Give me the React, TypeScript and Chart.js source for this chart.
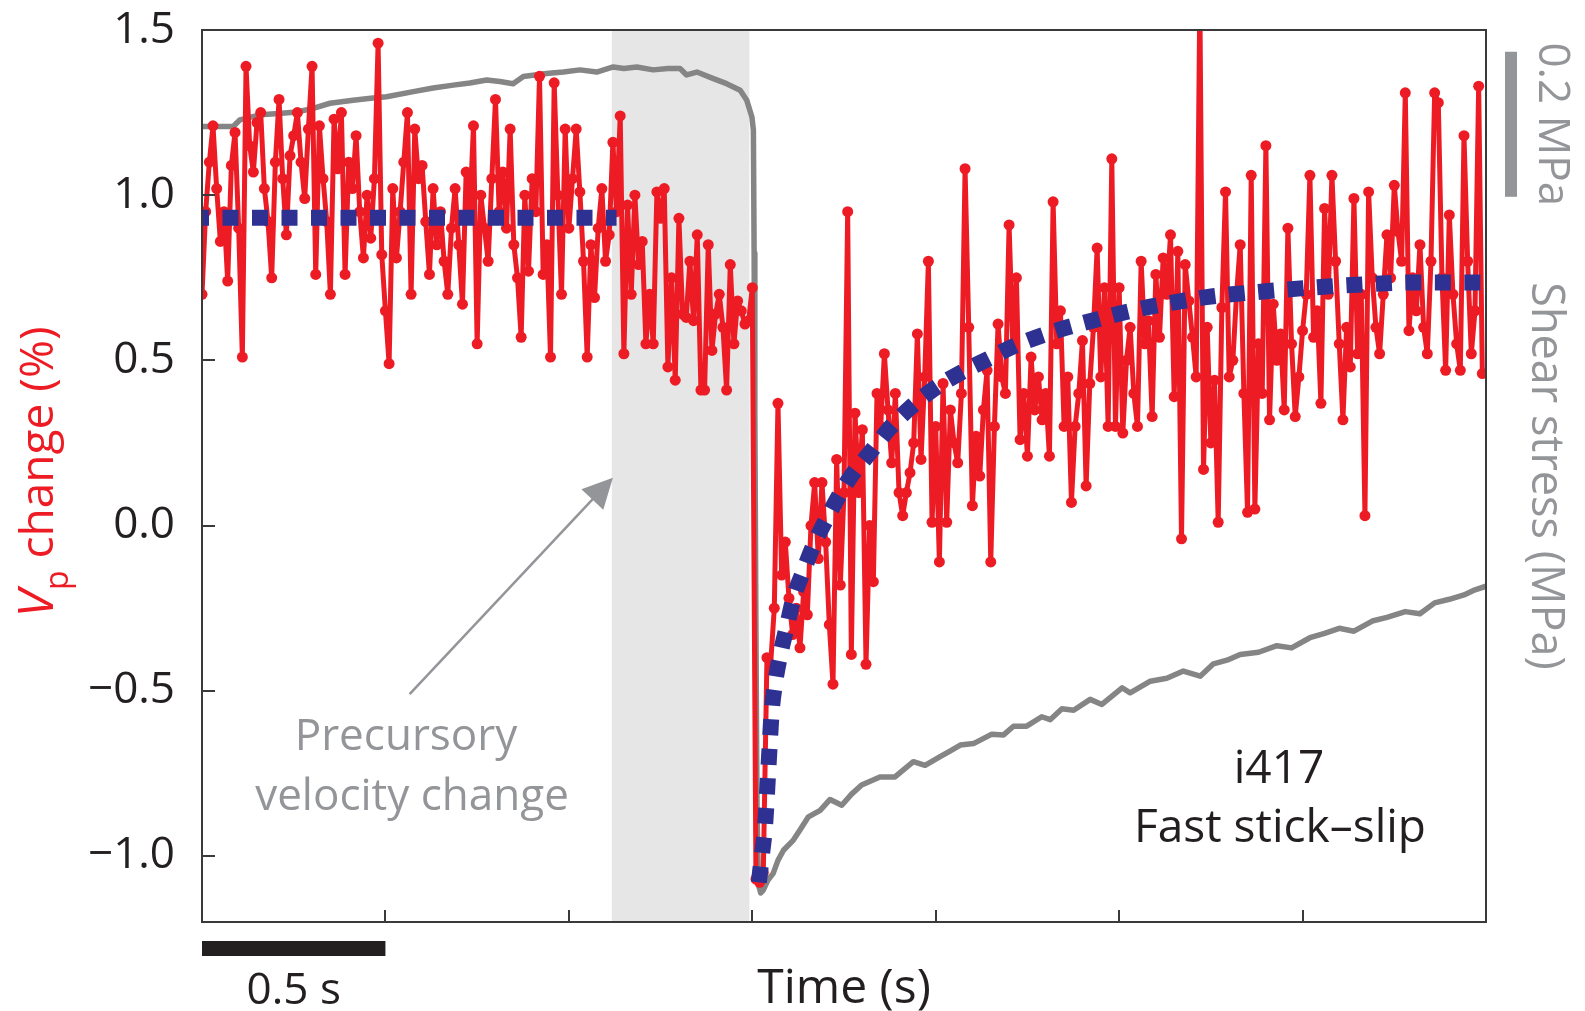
import React, { useEffect, useRef } from 'react';
import { Chart, registerables } from 'chart.js';

Chart.register(...registerables);

// ---------------- data ----------------
const SAMPLE_START = 0; // s
const SAMPLE_STEP = 0.01; // s between P-wave velocity measurements

// Vp change (%) sampled every SAMPLE_STEP seconds
const vpChange = [
  0.70, 0.95, 1.10, 1.21, 1.02, 0.86, 0.95, 0.74, 1.09, 1.19,
  0.90, 0.51, 1.39, 1.15, 1.07, 1.22, 1.25, 1.02, 0.92, 0.75,
  1.10, 1.29, 1.05, 0.88, 1.12, 1.18, 1.25, 1.10, 0.99, 1.20,
  1.39, 0.76, 1.21, 1.05, 0.92, 0.70, 1.23, 1.08, 1.25, 0.76,
  1.10, 1.02, 1.18, 0.95, 0.81, 1.00, 0.87, 1.05, 1.46, 0.82,
  0.65, 0.49, 1.02, 0.81, 0.95, 1.10, 1.25, 0.70, 1.20, 1.05,
  1.09, 0.92, 0.76, 1.02, 0.85, 0.95, 0.80, 0.70, 0.90, 1.02,
  0.85, 0.67, 1.07, 0.95, 1.21, 0.55, 1.00, 0.90, 0.80, 1.05,
  1.29, 0.95, 1.07, 0.90, 1.20, 0.85, 0.75, 0.57, 1.00, 0.77,
  1.05, 0.95, 1.36, 0.76, 0.85, 0.51, 1.34, 1.00, 0.70, 1.20,
  0.90, 1.05, 1.20, 1.01, 0.80, 0.51, 0.85, 0.69, 0.90, 1.02,
  0.80, 0.88, 1.16, 0.95, 1.24, 0.52, 0.97, 0.70, 1.00, 0.79,
  0.86, 0.55, 0.70, 0.55, 1.01, 0.93, 1.02, 0.48, 0.75, 0.44,
  0.93, 0.64, 0.63, 0.80, 0.62, 0.88, 0.41, 0.41, 0.85, 0.53,
  0.64, 0.70, 0.60, 0.41, 0.79, 0.55, 0.68, 0.65, 0.61, 0.62,
  0.72,
  -1.07, -1.08, -1.05, -0.40, -0.42, -0.25, 0.37, -0.15, -0.05,
  -0.22, -0.33, -0.25, -0.37, -0.20, -0.27, 0.00, 0.13, -0.10, 0.13,
  -0.05, -0.30, -0.48, 0.20, -0.18, 0.10, 0.95, -0.39, 0.34, 0.10,
  0.29, -0.42, 0.00, -0.17, 0.40, 0.30, 0.52, 0.35, 0.19, 0.40,
  0.10, 0.03, 0.10, 0.16, 0.25, 0.58, 0.20, 0.45, 0.80, 0.01,
  0.30, -0.11, 0.43, 0.01, 0.35, 0.25, 0.19, 0.40, 1.08, 0.60,
  0.06, 0.27, 0.15, 0.35, 0.47, -0.11, 0.30, 0.61, 0.45, 0.40,
  0.91, 0.55, 0.75, 0.26, 0.40, 0.21, 0.51, 0.35, 0.45, 0.32,
  0.40, 0.21, 0.98, 0.55, 0.65, 0.30, 0.45, 0.07, 0.30, 0.40,
  0.56, 0.12, 0.43, 0.60, 0.84, 0.45, 0.72, 0.30, 1.11, 0.30,
  0.72, 0.28, 0.50, 0.60, 0.40, 0.30, 0.80, 0.55, 0.62, 0.33,
  0.76, 0.57, 0.81, 0.70, 0.88, 0.39, 0.83, -0.04, 0.79, 0.68,
  0.57, 0.45, 1.60, 0.17, 0.60, 0.25, 0.44, 0.01, 0.66, 1.01,
  0.45, 0.50, 0.70, 0.85, 0.40, 0.04, 1.06, 0.05, 0.55, 0.40,
  1.15, 0.32, 0.67, 0.50, 0.58, 0.35, 0.90, 0.55, 0.33, 0.45,
  0.59, 0.70, 1.06, 0.57, 0.65, 0.37, 0.96, 0.70, 1.06, 0.80,
  0.55, 0.32, 0.60, 0.48, 0.99, 0.52, 0.70, 0.03, 1.01, 0.75,
  0.60, 0.52, 0.70, 0.88, 0.75, 1.03, 0.89, 0.80, 1.31, 0.59,
  0.75, 0.65, 0.85, 0.60, 0.52, 0.80, 1.31, 1.28, 0.75, 0.47,
  0.94, 0.70, 0.55, 0.47, 1.18, 0.80, 0.52, 0.65, 1.33, 0.46,
];

// Shear stress (MPa, relative level) vs time (s)
const stressTime = [
  0.000, 0.085, 0.103, 0.158, 0.210, 0.258, 0.303, 0.349, 0.412, 0.460,
  0.503, 0.576, 0.630, 0.685, 0.730, 0.776, 0.812, 0.848, 0.876, 0.939,
  0.985, 1.030, 1.076, 1.121, 1.150, 1.185, 1.230, 1.270, 1.303, 1.321,
  1.349, 1.394, 1.430, 1.467, 1.485, 1.499, 1.503, 1.505, 1.507, 1.510,
  1.513, 1.517, 1.523, 1.530, 1.543, 1.557, 1.570, 1.585, 1.612, 1.630,
  1.653, 1.685, 1.712, 1.744, 1.770, 1.798, 1.848, 1.889, 1.939, 1.971,
  2.012, 2.040, 2.067, 2.103, 2.153, 2.185, 2.212, 2.248, 2.289, 2.312,
  2.344, 2.376, 2.421, 2.453, 2.508, 2.530, 2.585, 2.630, 2.675, 2.721,
  2.757, 2.794, 2.830, 2.880, 2.930, 2.970, 3.020, 3.060, 3.100, 3.140,
  3.190, 3.230, 3.280, 3.320, 3.360, 3.400, 3.440, 3.470, 3.500,
];
const stressMPa = [
  1.097, 1.097, 1.106, 1.113, 1.115, 1.117, 1.122, 1.129, 1.133, 1.136,
  1.138, 1.145, 1.150, 1.154, 1.157, 1.161, 1.159, 1.156, 1.166, 1.170,
  1.172, 1.175, 1.172, 1.179, 1.177, 1.179, 1.175, 1.177, 1.177, 1.168,
  1.172, 1.163, 1.156, 1.147, 1.133, 1.110, 1.092, 0.922, 0.700, 0.400,
  0.150, 0.051, 0.040, 0.044, 0.058, 0.067, 0.085, 0.099, 0.113, 0.127,
  0.145, 0.154, 0.169, 0.161, 0.176, 0.189, 0.200, 0.200, 0.221, 0.216,
  0.228, 0.236, 0.244, 0.246, 0.259, 0.258, 0.270, 0.270, 0.283, 0.279,
  0.294, 0.292, 0.307, 0.300, 0.323, 0.316, 0.332, 0.336, 0.346, 0.339,
  0.356, 0.361, 0.369, 0.372, 0.381, 0.378, 0.392, 0.398, 0.405, 0.401,
  0.415, 0.420, 0.428, 0.425, 0.440, 0.445, 0.451, 0.458, 0.463,
];

// Fitted Vp trends (blue dotted)
const fitPreTime = [0.0, 1.13];
const fitPreValue = [0.932, 0.932];
const fitPostTime = [
  1.518, 1.526, 1.535, 1.544, 1.553, 1.562, 1.576, 1.594, 1.612, 1.639,
  1.668, 1.709, 1.764, 1.819, 1.874, 1.929, 1.998, 2.067, 2.150, 2.205,
  2.315, 2.426, 2.536, 2.646, 2.756, 2.867, 3.032, 3.170, 3.308, 3.500,
];
const fitPostValue = [
  -1.080, -1.000, -0.906, -0.733, -0.563, -0.478, -0.392, -0.307, -0.221, -0.139,
  -0.057, 0.034, 0.141, 0.218, 0.294, 0.355, 0.416, 0.462, 0.508, 0.539,
  0.585, 0.620, 0.651, 0.675, 0.694, 0.706, 0.721, 0.730, 0.736, 0.736,
];

const yTickValues = [-1.0, -0.5, 0.0, 0.5, 1.0, 1.5];
const yTickLabels = ['\u22121.0', '\u22120.5', '0.0', '0.5', '1.0', '1.5'];
const xTickValues = [0.5, 1.0, 1.5, 2.0, 2.5, 3.0];
const precursorWindow = [1.117, 1.492]; // s
const timeScaleBar = [0, 0.5]; // s
const timeScaleLabel = '0.5 s';
const stressScaleBar = [1.0, 1.2]; // MPa
const stressScaleLabel = '0.2 MPa';

// ---------------- styles ----------------
const FONT = '"Open Sans", "DejaVu Sans", sans-serif';
const RED = '#ed1c24';
const BLUE = '#2e3192';
const STRESS_GREY = '#858585';
const TEXT_GREY = '#939598';
const DARK = '#231f20';

const toXY = (xs: number[], ys: number[]) => xs.map((x, i) => ({ x, y: ys[i] }));

function drawText(ctx: CanvasRenderingContext2D, str: string, x: number, y: number, font: string, color: string, align: CanvasTextAlign = 'center', baseline: CanvasTextBaseline = 'alphabetic') {
  ctx.font = font;
  ctx.fillStyle = color;
  ctx.textAlign = align;
  ctx.textBaseline = baseline;
  ctx.fillText(str, x, y);
}

const zeroPad = (s: any) => {
  s.paddingTop = 0;
  s.paddingBottom = 0;
  s.paddingLeft = 0;
  s.paddingRight = 0;
};

const decorations = {
  id: 'decorations',
  beforeDatasetsDraw(chart: any) {
    const { ctx, chartArea: a, scales } = chart;
    const x = scales.x;
    ctx.save();
    ctx.fillStyle = '#e6e6e6';
    const x0 = x.getPixelForValue(precursorWindow[0]);
    const x1 = x.getPixelForValue(precursorWindow[1]);
    ctx.fillRect(x0, a.top, x1 - x0, a.bottom - a.top);
    ctx.restore();
  },
  afterDatasetsDraw(chart: any) {
    const { ctx, chartArea: a, scales } = chart;
    ctx.save();
    ctx.strokeStyle = '#3a3a3a';
    ctx.lineWidth = 2;
    // inward tick marks
    ctx.beginPath();
    for (const t of scales.y.ticks) {
      const py = Math.round(scales.y.getPixelForValue(t.value));
      ctx.moveTo(a.left, py);
      ctx.lineTo(a.left + 13, py);
    }
    for (const t of scales.x.ticks) {
      const px = Math.round(scales.x.getPixelForValue(t.value));
      ctx.moveTo(px, a.bottom);
      ctx.lineTo(px, a.bottom - 12);
    }
    ctx.stroke();
    ctx.strokeRect(a.left, a.top, a.right - a.left, a.bottom - a.top);
    ctx.restore();
  },
  afterDraw(chart: any) {
    const { ctx, chartArea: a, scales } = chart;
    const { x, y, y2 } = scales;
    ctx.save();

    // time scale bar
    const bx0 = x.getPixelForValue(timeScaleBar[0]);
    const bx1 = x.getPixelForValue(timeScaleBar[1]);
    ctx.fillStyle = DARK;
    ctx.fillRect(bx0, a.bottom + 19, bx1 - bx0, 15);
    drawText(ctx, timeScaleLabel, (bx0 + bx1) / 2, 1004, `44px ${FONT}`, DARK);

    // stress scale bar
    const sy0 = y2.getPixelForValue(stressScaleBar[1]);
    const sy1 = y2.getPixelForValue(stressScaleBar[0]);
    ctx.fillStyle = TEXT_GREY;
    ctx.fillRect(a.right + 19, sy0, 12, sy1 - sy0);
    ctx.save();
    ctx.translate(a.right + 66, (sy0 + sy1) / 2);
    ctx.rotate(Math.PI / 2);
    drawText(ctx, stressScaleLabel, 0, 0, `44px ${FONT}`, TEXT_GREY, 'center', 'middle');
    ctx.restore();

    // left axis title: Vp change (%)
    ctx.save();
    ctx.translate(53, 472);
    ctx.rotate(-Math.PI / 2);
    const fV = `italic 50px ${FONT}`;
    const fP = `32px ${FONT}`;
    const fR = `46px ${FONT}`;
    ctx.font = fV; const w1 = ctx.measureText('V').width;
    ctx.font = fP; const w2 = ctx.measureText('p').width;
    ctx.font = fR; const w3 = ctx.measureText(' change (%)').width;
    let cx = -(w1 + w2 + w3) / 2;
    drawText(ctx, 'V', cx, 0, fV, RED, 'left'); cx += w1;
    drawText(ctx, 'p', cx, 15, fP, RED, 'left'); cx += w2;
    drawText(ctx, ' change (%)', cx, 0, fR, RED, 'left');
    ctx.restore();

    // annotation arrow
    const tailX = x.getPixelForValue(0.566), tailY = y.getPixelForValue(-0.51);
    const tipX = x.getPixelForValue(1.12), tipY = y.getPixelForValue(0.145);
    const ang = Math.atan2(tipY - tailY, tipX - tailX);
    const headLen = 30, headHalf = 15;
    const baseX = tipX - headLen * Math.cos(ang), baseY = tipY - headLen * Math.sin(ang);
    ctx.strokeStyle = TEXT_GREY;
    ctx.lineWidth = 2.5;
    ctx.beginPath();
    ctx.moveTo(tailX, tailY);
    ctx.lineTo(baseX + 4 * Math.cos(ang), baseY + 4 * Math.sin(ang));
    ctx.stroke();
    ctx.fillStyle = TEXT_GREY;
    ctx.beginPath();
    ctx.moveTo(tipX, tipY);
    ctx.lineTo(baseX - headHalf * Math.sin(ang), baseY + headHalf * Math.cos(ang));
    ctx.lineTo(baseX + headHalf * Math.sin(ang), baseY - headHalf * Math.cos(ang));
    ctx.closePath();
    ctx.fill();

    drawText(ctx, 'Precursory', 406, 750, `44px ${FONT}`, TEXT_GREY);
    drawText(ctx, 'velocity change', 412, 810, `44px ${FONT}`, TEXT_GREY);

    drawText(ctx, 'i417', 1279, 783, `46px ${FONT}`, DARK);
    drawText(ctx, 'Fast stick\u2013slip', 1280, 842, `46px ${FONT}`, DARK);

    ctx.restore();
  },
};

export default function App() {
  const ref = useRef<HTMLCanvasElement | null>(null);

  useEffect(() => {
    const canvas = ref.current;
    if (!canvas) return;
    const chart = new Chart(canvas, {
      type: 'line',
      data: {
        datasets: [
          {
            label: 'Fit (pre-slip)',
            data: toXY(fitPreTime, fitPreValue),
            borderColor: BLUE,
            borderWidth: 16,
            borderDash: [16, 13.5],
            borderDashOffset: 9,
            borderCapStyle: 'butt',
            pointRadius: 0,
            yAxisID: 'y',
            clip: 0,
          },
          {
            label: 'Fit (post-slip)',
            data: toXY(fitPostTime, fitPostValue),
            borderColor: BLUE,
            borderWidth: 16,
            borderDash: [16, 13.5],
            borderCapStyle: 'butt',
            cubicInterpolationMode: 'monotone',
            pointRadius: 0,
            yAxisID: 'y',
            clip: 0,
          },
          {
            label: 'Vp change (%)',
            data: vpChange.map((v, i) => ({ x: SAMPLE_START + i * SAMPLE_STEP, y: v })),
            borderColor: RED,
            backgroundColor: RED,
            borderWidth: 5,
            borderJoinStyle: 'round',
            pointRadius: 5.5,
            pointBorderWidth: 0,
            pointBackgroundColor: RED,
            tension: 0,
            yAxisID: 'y',
            clip: 0,
          },
          {
            label: 'Shear stress (MPa)',
            data: toXY(stressTime, stressMPa),
            borderColor: STRESS_GREY,
            borderWidth: 5.5,
            borderJoinStyle: 'round',
            pointRadius: 0,
            tension: 0,
            yAxisID: 'y2',
            clip: 0,
          },
        ],
      },
      options: {
        responsive: false,
        animation: false,
        devicePixelRatio: 1,
        layout: { padding: { top: 30, left: 0, right: 0, bottom: 0 } },
        plugins: { legend: { display: false }, tooltip: { enabled: false } },
        scales: {
          x: {
            type: 'linear',
            min: 0,
            max: 3.5,
            afterBuildTicks: (s: any) => { s.ticks = xTickValues.map((v) => ({ value: v })); },
            ticks: { display: false },
            grid: { display: false, drawTicks: false },
            border: { display: false },
            title: {
              display: true,
              text: 'Time (s)',
              color: DARK,
              font: { family: FONT, size: 48, lineHeight: 0.9 },
              padding: { top: 0, bottom: 0 },
            },
            afterFit: (s: any) => { s.height = 89; zeroPad(s); },
          },
          y: {
            type: 'linear',
            position: 'left',
            min: -1.2,
            max: 1.5,
            afterBuildTicks: (s: any) => { s.ticks = yTickValues.map((v) => ({ value: v })); },
            ticks: {
              callback: (_v: any, i: number) => yTickLabels[i],
              color: DARK,
              font: { family: FONT, size: 44 },
              padding: 27,
            },
            grid: { display: false, drawTicks: false },
            border: { display: false },
            afterFit: (s: any) => { s.width = 202; zeroPad(s); },
          },
          y2: {
            type: 'linear',
            position: 'right',
            min: 0,
            max: 1.23,
            ticks: { display: false },
            grid: { display: false, drawTicks: false },
            border: { display: false },
            title: {
              display: true,
              text: 'Shear stress (MPa)',
              color: TEXT_GREY,
              font: { family: FONT, size: 45, lineHeight: 1.2 },
              padding: { top: 13, bottom: 0 },
            },
            afterFit: (s: any) => { s.width = 99; zeroPad(s); },
          },
        },
      },
      plugins: [decorations],
    } as any);
    return () => chart.destroy();
  }, []);

  return (
    <div style={{ position: 'absolute', left: 0, top: 0, width: 1585, height: 1011, background: '#fff' }}>
      <canvas ref={ref} width={1585} height={1011} style={{ display: 'block', width: 1585, height: 1011 }} />
    </div>
  );
}
